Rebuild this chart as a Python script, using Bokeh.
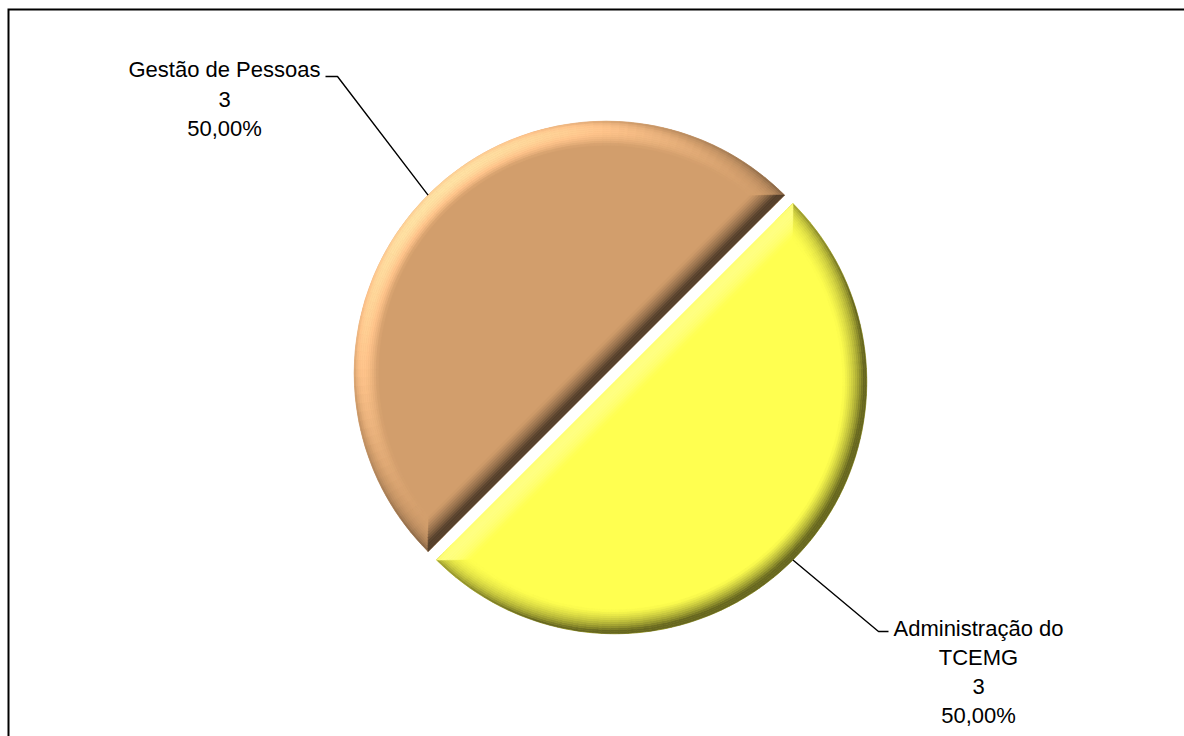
import math
import numpy as np
from bokeh.plotting import figure
from bokeh.models import Range1d, ColumnDataSource
from bokeh.core.properties import value
from bokeh.embed import file_html
from bokeh.resources import INLINE

# ---------------- data ----------------
categories = ["Gestão de Pessoas", "Administração do TCEMG"]
counts = [3, 3]
label_lines = [["Gestão de Pessoas"], ["Administração do", "TCEMG"]]
base_colors = [(210, 158, 108), (255, 255, 80)]

# ---------------- layout ----------------
W, H = 1184, 736
CX0, CY0 = 610.0, 359.0
R = 252.0
EXPLODE = 6.0
BEVEL = 24.0
NL = 12
START = math.pi / 4
FONT = "Liberation Sans"
FONT_SIZE = "22px"
FRAME_X, FRAME_Y = 8.0, H - 9.0
# label anchor (centre x, first line centre y, line step) and leader elbow/end points
label_anchor = [(224.0, 667.0, 29.5), (978.0, 108.0, 29.0)]
leader_elbow = [((337.0, 660.0), (325.0, 660.0)), ((878.0, 105.0), (888.0, 105.0))]

p = figure(width=W, height=H, x_range=Range1d(0, W), y_range=Range1d(0, H),
           output_backend="svg", toolbar_location=None, min_border=0)
p.xaxis.visible = False
p.yaxis.visible = False
p.xgrid.visible = False
p.ygrid.visible = False
p.outline_line_color = None
p.background_fill_color = "white"
p.border_fill_color = "white"

# chart frame (only its left and top edges fall inside the window)
p.line(x=[FRAME_X, FRAME_X, W + 5], y=[-5, FRAME_Y, FRAME_Y],
       line_color="black", line_width=2, line_join="miter")

L = np.array([-0.5, 0.5, 0.7071])
L = L / np.linalg.norm(L)
FLAT = L[2]


def shade(base, phi, t):
    beta = math.asin(min(max(t, 0.0), 1.0) * 0.95)
    n = np.array([math.sin(beta) * math.cos(phi), math.sin(beta) * math.sin(phi), math.cos(beta)])
    d = float(n @ L)
    k = 0.40 + 0.60 * max(d, 0.0) / FLAT
    out = []
    for c in base:
        v = c * k + max(k - 1.0, 0.0) * 120.0
        out.append(int(max(0, min(255, round(v)))))
    return "#%02x%02x%02x" % tuple(out)


total = float(sum(counts))
a0 = START
dw = BEVEL / NL
for i, (cat, cnt) in enumerate(zip(categories, counts)):
    a1 = a0 + 2 * math.pi * cnt / total
    mid = (a0 + a1) / 2
    cx = CX0 + EXPLODE * math.cos(mid)
    cy = CY0 + EXPLODE * math.sin(mid)
    base = base_colors[i]
    base_hex = "#%02x%02x%02x" % base

    # base slice
    p.wedge(x=[cx], y=[cy], radius=R, start_angle=[a0], end_angle=[a1],
            fill_color=base_hex, line_color=base_hex, line_width=0.5)

    # rim bevel
    seg = math.radians(2.0)
    nseg = int(round((a1 - a0) / seg))
    rx, ry, ri, ro, sa, ea, col = [], [], [], [], [], [], []
    for j in range(NL):
        t = 1.0 - (j + 0.5) / NL
        for s in range(nseg):
            s0 = a0 + (a1 - a0) * s / nseg
            s1 = a0 + (a1 - a0) * (s + 1) / nseg
            rx.append(cx); ry.append(cy)
            ro.append(R - j * dw); ri.append(R - (j + 1) * dw)
            sa.append(s0); ea.append(s1)
            col.append(shade(base, (s0 + s1) / 2, t))
    src = ColumnDataSource(dict(x=rx, y=ry, ri=ri, ro=ro, sa=sa, ea=ea, c=col))
    p.annular_wedge(x="x", y="y", inner_radius="ri", outer_radius="ro",
                    start_angle="sa", end_angle="ea", fill_color="c", line_color="c",
                    line_width=0.6, source=src)

    # chord bevel (mitred bands parallel to the straight edge)
    ux, uy = math.cos(mid), math.sin(mid)
    vx, vy = -uy, ux
    xs, ys, cc = [], [], []
    for j in range(NL):
        d0, d1 = j * dw, (j + 1) * dw
        e0 = math.sqrt((R - d0) ** 2 - d0 ** 2)
        e1 = math.sqrt((R - d1) ** 2 - d1 ** 2)
        pts = [(-e0, d0), (e0, d0), (e1, d1), (-e1, d1)]
        xs.append([cx + lx * vx + ly * ux for lx, ly in pts])
        ys.append([cy + lx * vy + ly * uy for lx, ly in pts])
        cc.append(shade(base, mid + math.pi, 1.0 - (j + 0.5) / NL))
    p.patches(xs="xs", ys="ys", fill_color="c", line_color="c", line_width=0.6,
              source=ColumnDataSource(dict(xs=xs, ys=ys, c=cc)))

    # leader line
    sx = cx + R * math.cos(mid)
    sy = cy + R * math.sin(mid)
    (ex, ey), (fx, fy) = leader_elbow[i]
    p.line(x=[sx, ex, fx], y=[sy, ey, fy], line_color="black", line_width=1.4)

    # label
    pct = 100.0 * cnt / total
    lines = label_lines[i] + [str(cnt), ("%.2f" % pct).replace(".", ",") + "%"]
    lx0, ly0, step = label_anchor[i]
    p.text(x=[lx0] * len(lines), y=[ly0 - k * step for k in range(len(lines))],
           text=lines, text_align="center", text_baseline="middle",
           text_font=value(FONT), text_font_size=FONT_SIZE, text_color="black")

    a0 = a1

open("out.html", "w").write(file_html(p, INLINE))
